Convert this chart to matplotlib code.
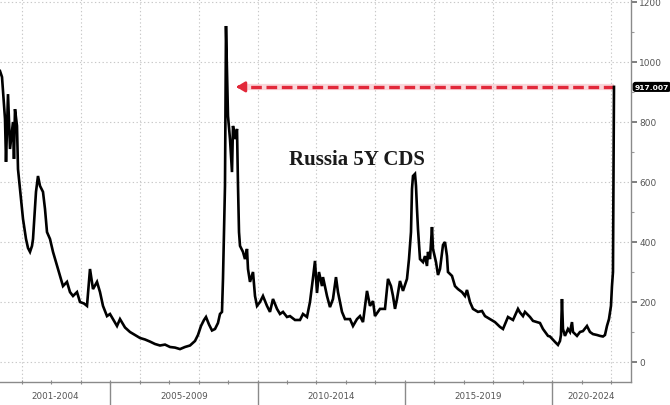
import matplotlib
matplotlib.use("Agg")
import matplotlib.pyplot as plt
import matplotlib.transforms as mtransforms
from matplotlib.lines import Line2D

# ---------------- data ----------------
dates = [
    2001.253, 2001.321, 2001.423, 2001.457, 2001.525, 2001.593, 2001.694, 2001.728, 2001.762, 2001.830,
    2001.864, 2001.966, 2002.034, 2002.136, 2002.204, 2002.272, 2002.340, 2002.374, 2002.475, 2002.543,
    2002.611, 2002.713, 2002.781, 2002.849, 2002.951, 2003.053, 2003.155, 2003.290, 2003.392, 2003.528,
    2003.630, 2003.732, 2003.868, 2003.969, 2004.105, 2004.207, 2004.309, 2004.411, 2004.547, 2004.649,
    2004.750, 2004.886, 2004.988, 2005.090, 2005.226, 2005.328, 2005.498, 2005.667, 2005.837, 2006.007,
    2006.177, 2006.346, 2006.516, 2006.686, 2006.856, 2007.026, 2007.195, 2007.365, 2007.535, 2007.705,
    2007.874, 2007.976, 2008.078, 2008.180, 2008.248, 2008.350, 2008.452, 2008.554, 2008.655, 2008.723,
    2008.791, 2008.825, 2008.893, 2008.927, 2008.961, 2008.995, 2009.063, 2009.131, 2009.165, 2009.233,
    2009.301, 2009.335, 2009.369, 2009.403, 2009.504, 2009.572, 2009.640, 2009.674, 2009.742, 2009.844,
    2009.912, 2009.980, 2010.082, 2010.183, 2010.319, 2010.421, 2010.523, 2010.659, 2010.761, 2010.863,
    2010.998, 2011.100, 2011.270, 2011.440, 2011.542, 2011.677, 2011.779, 2011.881, 2011.949, 2012.017,
    2012.085, 2012.187, 2012.221, 2012.357, 2012.458, 2012.560, 2012.662, 2012.730, 2012.866, 2012.968,
    2013.138, 2013.240, 2013.375, 2013.477, 2013.579, 2013.715, 2013.817, 2013.919, 2013.986, 2014.156,
    2014.326, 2014.428, 2014.530, 2014.598, 2014.666, 2014.734, 2014.835, 2014.937, 2015.073, 2015.141,
    2015.209, 2015.243, 2015.277, 2015.345, 2015.379, 2015.413, 2015.447, 2015.515, 2015.617, 2015.684,
    2015.752, 2015.786, 2015.854, 2015.922, 2015.956, 2016.058, 2016.126, 2016.194, 2016.296, 2016.363,
    2016.431, 2016.465, 2016.601, 2016.703, 2016.805, 2016.941, 2017.043, 2017.110, 2017.212, 2017.314,
    2017.484, 2017.620, 2017.722, 2017.891, 2018.061, 2018.231, 2018.333, 2018.503, 2018.673, 2018.842,
    2018.910, 2019.012, 2019.080, 2019.250, 2019.352, 2019.487, 2019.589, 2019.691, 2019.861, 2019.929,
    2020.098, 2020.200, 2020.268, 2020.302, 2020.336, 2020.370, 2020.438, 2020.540, 2020.608, 2020.676,
    2020.710, 2020.846, 2020.947, 2021.049, 2021.185, 2021.287, 2021.389, 2021.525, 2021.626, 2021.728,
    2021.796, 2021.864, 2021.932, 2022.000, 2022.034, 2022.068, 2022.085, 2022.102,
]
cds = [
    970, 950, 810, 667, 893, 710, 800, 677, 843, 787,
    643, 543, 477, 410, 380, 367, 387, 410, 567, 620,
    587, 567, 510, 433, 410, 367, 333, 287, 253, 267,
    233, 220, 233, 200, 195, 187, 310, 243, 267, 233,
    187, 153, 160, 143, 120, 143, 115, 100, 90, 80,
    75, 68, 60, 55, 58, 50, 48, 43, 50, 55,
    70, 90, 120, 140, 150, 125, 105, 110, 130, 160,
    167, 277, 587, 1120, 977, 820, 743, 633, 787, 743,
    777, 587, 433, 387, 367, 343, 377, 310, 267, 300,
    220, 187, 200, 220, 187, 167, 210, 177, 160, 167,
    150, 153, 140, 140, 160, 150, 200, 280, 337, 230,
    300, 253, 283, 220, 183, 210, 283, 233, 167, 143,
    143, 120, 143, 153, 133, 237, 187, 203, 153, 177,
    177, 277, 253, 220, 177, 210, 270, 237, 277, 343,
    433, 577, 620, 627, 587, 510, 443, 343, 333, 353,
    320, 367, 343, 450, 377, 333, 290, 310, 390, 400,
    353, 300, 287, 253, 243, 233, 220, 240, 200, 177,
    167, 170, 153, 143, 133, 117, 110, 150, 140, 177,
    165, 153, 167, 150, 137, 133, 130, 110, 87, 85,
    67, 57, 70, 90, 210, 110, 87, 110, 100, 133,
    100, 87, 100, 103, 120, 100, 93, 90, 87, 85,
    90, 120, 143, 187, 253, 300, 600, 917,
]
period_labels = ["2001-2004", "2005-2009", "2010-2014", "2015-2019", "2020-2024"]
period_bounds = [2001, 2005, 2010, 2015, 2020, 2025]
last_value = 917.007
peak_2008_date = 2009.18
title = "Russia 5Y CDS"

# ---------------- figure ----------------
W, H = 670, 406
fig = plt.figure(figsize=(W / 100, H / 100), dpi=100)
ax = fig.add_axes([0, 23 / H, 631 / W, 1 - 23 / H])

x_lo = 2001.253
x_hi = 2022.68
ax.set_xlim(x_lo, x_hi)
ax.set_ylim(-66.7, 1210)

# grid
grid_kw = dict(color="#c8c8c8", linestyle=(0, (1.2, 2.2)), linewidth=0.8, zorder=0)
for yv in range(0, 1201, 200):
    ax.axhline(yv, **grid_kw)
for xv in range(2002, 2023, 2):
    ax.axvline(xv, **grid_kw)

# series
ax.plot(dates, cds, color="black", linewidth=1.9, solid_joinstyle="miter", zorder=3)

# red dashed arrow at last value
ax.plot([dates[-1], peak_2008_date + 0.25], [last_value, last_value],
        color="#f3a6ad", linewidth=4.5, alpha=0.45, zorder=2, solid_capstyle="butt")
ax.plot([dates[-1], peak_2008_date + 0.25], [last_value, last_value],
        color="#e2283a", linewidth=2.4, linestyle=(0, (3.2, 1.4)), zorder=2)
ax.annotate("", xy=(peak_2008_date, last_value), xytext=(peak_2008_date + 0.35, last_value),
            arrowprops=dict(arrowstyle="-|>,head_length=0.5,head_width=0.3",
                            color="#e2283a", lw=2.0), zorder=2)

# axes styling
for s in ["top", "left"]:
    ax.spines[s].set_visible(False)
ax.spines["right"].set_color("#8a8a8a")
ax.spines["bottom"].set_color("#8a8a8a")
ax.spines["right"].set_linewidth(1.0)
ax.spines["bottom"].set_linewidth(1.0)

ax.yaxis.tick_right()
ax.set_yticks(range(0, 1201, 200))
ax.set_yticks(range(100, 1201, 200), minor=True)
ax.tick_params(axis="y", which="major", direction="out", length=4, width=1.2,
               color="#6a6a6a", labelsize=6.5, labelcolor="#555555", pad=2)
ax.tick_params(axis="y", which="minor", direction="out", length=2.5, width=0.8, color="#9a9a9a")
ax.set_xticks(range(2002, 2023))
ax.set_xticklabels([])
ax.tick_params(axis="x", which="major", direction="inout", length=3, width=0.8,
               color="#8a8a8a")

# period labels and separators below axis
trans = mtransforms.blended_transform_factory(ax.transData, fig.transFigure)
for i, lab in enumerate(period_labels):
    a = max(period_bounds[i], x_lo)
    b = min(period_bounds[i + 1], x_hi)
    fig.text((a + b) / 2, 0.012, lab, transform=trans, ha="center", va="bottom",
             fontsize=6.3, color="#555555")
for xb in period_bounds[1:-1]:
    fig.add_artist(Line2D([xb, xb], [0, 23 / H], transform=trans,
                          color="#8a8a8a", linewidth=1.0))

# last value label
ax.annotate(f"{last_value:.3f}", xy=(1.0, last_value),
            xycoords=("axes fraction", "data"), xytext=(2.6, 0), textcoords="offset points",
            ha="left", va="center", fontsize=5.4, color="white", fontweight="bold",
            bbox=dict(boxstyle="round,pad=0.18,rounding_size=0.3", fc="black", ec="black"),
            annotation_clip=False)

# title
fig.text(357 / W, 1 - 160 / H, title, ha="center", va="center", fontsize=15,
         fontweight="bold", family="Liberation Serif", color="#1a1a1a")

fig.savefig("out.png", dpi=100)
